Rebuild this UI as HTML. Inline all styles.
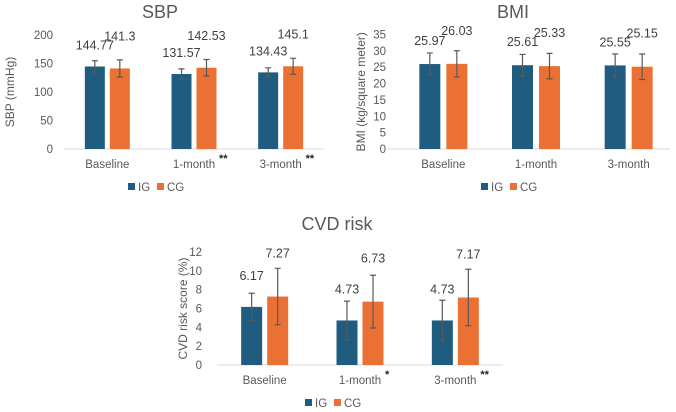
<!DOCTYPE html>
<html><head><meta charset="utf-8"><style>
html,body{margin:0;padding:0;background:#fff;}
svg{display:block;font-family:"Liberation Sans",sans-serif;}
</style></head><body>
<svg id="c" width="676" height="412" viewBox="0 0 676 412"></svg>
<script>
const categories = ["Baseline","1-month","3-month"];
const sbpIG = [144.77,131.57,134.43];
const sbpCG = [141.3,142.53,145.1];
const sbpIGerr = [10,9,8];
const sbpCGerr = [15,14.5,14];
const sbpTicks = [0,50,100,150,200];
const sbpStars = ["","**","**"];
const bmiIG = [25.97,25.61,25.55];
const bmiCG = [26.03,25.33,25.15];
const bmiIGerr = [3.4,3.3,3.5];
const bmiCGerr = [4,3.9,3.9];
const bmiTicks = [0,5,10,15,20,25,30,35];
const bmiStars = ["","",""];
const cvdIG = [6.17,4.73,4.73];
const cvdCG = [7.27,6.73,7.17];
const cvdIGerr = [1.45,2.05,2.15];
const cvdCGerr = [3,2.8,3];
const cvdTicks = [0,2,4,6,8,10,12];
const cvdStars = ["","*","**"];

const NS="http://www.w3.org/2000/svg";
const svg=document.getElementById('c');
function mk(tag,attrs,parent,text){const e=document.createElementNS(NS,tag);for(const k in attrs)e.setAttribute(k,attrs[k]);if(text!==undefined)e.textContent=text;parent.appendChild(e);return e;}

function chart(o){
  const g=mk('g',{},svg);
  
  
  const ymax=o.ticks[o.ticks.length-1];
  const y=v=>o.y0-(v/ymax)*(o.y0-o.ytop);
  const band=(o.x1-o.x0)/categories.length;
  const cx=i=>o.x0+band*(i+0.5);
  const t=mk('text',{x:o.tx,y:o.ty,'text-anchor':'middle','font-size':18,fill:'#595959'},g,o.title);
  
  
  o.ticks.forEach(v=>{
    const l=mk('text',{x:o.tickRight,y:y(v)+4,'text-anchor':'end','font-size':11.5,fill:'#595959'},g,String(v));
    
    
  });
  const yt=mk('text',{x:0,y:0,transform:`translate(${o.ytx},${(o.y0+o.ytop)/2}) rotate(-90)`,'text-anchor':'middle','font-size':12,fill:'#595959'},g,o.ytitle);
  
  
  const ax=mk('line',{x1:o.ax0,x2:o.ax1,y1:o.y0,y2:o.y0,stroke:'#d9d9d9','stroke-width':1},g);
  
  
  const bw=o.bw, gap=o.gap;
  categories.forEach((c,i)=>{
    [[o.ig,o.igErr,'#1f5c80',-1,o.igOff],[o.cg,o.cgErr,'#ea7133',1,o.cgOff]].forEach(([vals,errs,col,side,off],k)=>{
      const v=vals[i];
      const bx=side<0?cx(i)-gap/2-bw:cx(i)+gap/2;
      const r=mk('rect',{x:bx,y:y(v),width:bw,height:o.y0-y(v),fill:col},g);
      
      
      const ex=bx+bw/2,e=errs[i];
      const eb=mk('path',{d:`M${ex},${y(v+e)}V${y(v-e)}M${ex-3},${y(v+e)}H${ex+3}M${ex-3},${y(v-e)}H${ex+3}`,stroke:'#595959','stroke-width':1.2,fill:'none'},g);
      
      
      const lb=mk('text',{x:ex,y:y(v)+off,'text-anchor':'middle','font-size':12.5,fill:'#404040'},g,String(v));
      
      
    });
    const xl=mk('text',{x:cx(i),y:o.y0+19,'text-anchor':'middle','font-size':11.5,fill:'#595959'},g,c);
    
    
    if(o.stars[i]){
      const s=mk('text',{x:cx(i)+25,y:o.y0+13,'font-size':11,'font-weight':'bold',fill:'#222'},g,o.stars[i]);
      
      
    }
  });
  const lg=mk('g',{},g);
  
  
  const lx=o.tx-32, ly=o.ly;
  mk('rect',{x:lx,y:ly-8,width:7,height:7,fill:'#1f5c80'},lg);
  mk('text',{x:lx+10,y:ly,'font-size':11.5,fill:'#595959'},lg,'IG');
  mk('rect',{x:lx+29,y:ly-8,width:7,height:7,fill:'#ea7133'},lg);
  mk('text',{x:lx+39,y:ly,'font-size':11.5,fill:'#595959'},lg,'CG');
}
chart({name:'sbp-chart',title:'SBP',tx:160,ty:18,ig:sbpIG,cg:sbpCG,igErr:sbpIGerr,cgErr:sbpCGerr,ticks:sbpTicks,stars:sbpStars,
  y0:149,ytop:35,x0:64,x1:324,ax0:64,ax1:324,bw:20,gap:5,tickRight:53,ytx:14,ytitle:'SBP (mmHg)',igOff:-17,cgOff:-28,ly:191});
chart({name:'bmi-chart',title:'BMI',tx:513,ty:18,ig:bmiIG,cg:bmiCG,igErr:bmiIGerr,cgErr:bmiCGerr,ticks:bmiTicks,stars:bmiStars,
  y0:149,ytop:34.5,x0:397,x1:675,ax0:388,ax1:670,bw:21,gap:6,tickRight:386,ytx:365,ytitle:'BMI (kg/square meter)',igOff:-19,cgOff:-29,ly:191});
chart({name:'cvd-risk-chart',title:'CVD risk',tx:337,ty:230,ig:cvdIG,cg:cvdCG,igErr:cvdIGerr,cgErr:cvdCGerr,ticks:cvdTicks,stars:cvdStars,
  y0:365,ytop:252,x0:217,x1:503,ax0:217,ax1:503,bw:21,gap:5,tickRight:202,ytx:187,ytitle:'CVD risk score (%)',igOff:-27,cgOff:-39,ly:407});
</script>
</body></html>
